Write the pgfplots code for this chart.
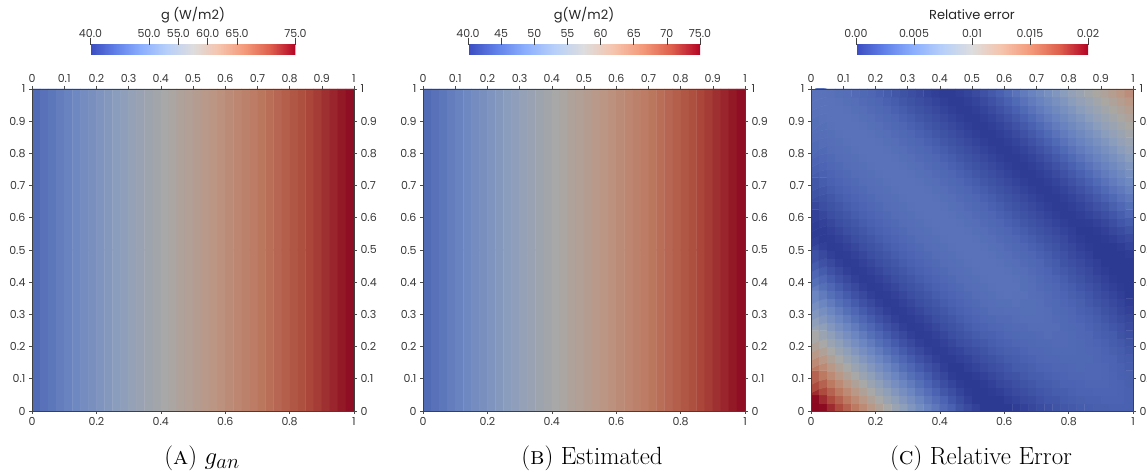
\documentclass[border=0pt]{standalone}
\usepackage{pgfplots}
\pgfplotsset{compat=1.18}
\usepackage{pgfplotstable}
\usepackage{fontspec}
\usetikzlibrary{calc}
\newfontfamily\pvfont{Poppins}

\pgfplotsset{
  colormap={cw}{rgb255=(59,76,192) rgb255=(98,130,234) rgb255=(141,176,254) rgb255=(184,208,249) rgb255=(221,221,221) rgb255=(245,196,173) rgb255=(244,154,123) rgb255=(222,96,77) rgb255=(180,4,38)},
  colormap={cwdim}{rgb255=(45,58,146) rgb255=(75,99,178) rgb255=(107,134,193) rgb255=(140,158,189) rgb255=(168,168,166) rgb255=(188,150,132) rgb255=(188,119,95) rgb255=(172,74,60) rgb255=(140,8,32)},
  base/.style={
    scale only axis, width=322pt, height=322pt, anchor=south west,
    xmin=0, xmax=1, ymin=0, ymax=1, enlargelimits=false,
    ticklabel style={font=\pvfont\fontsize{11}{13}\selectfont, text=black!78},
    /pgf/number format/assume math mode=true,
    tick align=outside, major tick length=3pt,
    tick style={black!70, line width=0.6pt},
  },
  panel/.style={
    base, axis on top, colormap name=cw,
    xtick={0,0.2,0.4,0.6,0.8,1},
    ytick={0,0.1,0.2,0.3,0.4,0.5,0.6,0.7,0.8,0.9,1},
    tick pos=left,
    axis line style={black!75, line width=0.8pt},
    colorbar horizontal,
  },
  over/.style={
    base,
    xtick={0,0.1,0.2,0.3,0.4,0.5,0.6,0.7,0.8,0.9,1},
    ytick={0,0.1,0.2,0.3,0.4,0.5,0.6,0.7,0.8,0.9,1},
    tick pos=right, xticklabel pos=right, yticklabel pos=right,
    axis line style={draw=none},
  },
  cbstyle/.style={
    at={($(parent axis.north)+(0pt,43pt)$)}, anchor=south,
    scale only axis, height=10pt,
    xtick pos=right, xticklabel pos=right,
    ytick=\empty,
    axis line style={draw=none},
    tick align=outside, major tick length=7pt,
    tick style={black!75, line width=0.6pt},
    xticklabel style={font=\pvfont\fontsize{11}{13}\selectfont, text=black!78, yshift=-4pt},
    title style={font=\pvfont\fontsize{13}{15}\selectfont, text=black!85, at={(0.5,1)}, anchor=base, yshift=19pt},
  },
}

% g (W/m2), two identical rows of 40 cells (x from 0 to 1)
\pgfplotstableread[row sep=\\, header=false]{
45.4\\46.1\\46.9\\47.6\\48.4\\49.1\\49.9\\50.6\\51.4\\52.1\\52.9\\53.6\\54.4\\55.1\\55.9\\56.6\\57.4\\58.1\\58.9\\59.6\\60.4\\61.1\\61.9\\62.6\\63.4\\64.1\\64.9\\65.6\\66.4\\67.1\\67.9\\68.6\\69.4\\70.1\\70.9\\71.6\\72.4\\73.1\\73.9\\74.6\\
45.4\\46.1\\46.9\\47.6\\48.4\\49.1\\49.9\\50.6\\51.4\\52.1\\52.9\\53.6\\54.4\\55.1\\55.9\\56.6\\57.4\\58.1\\58.9\\59.6\\60.4\\61.1\\61.9\\62.6\\63.4\\64.1\\64.9\\65.6\\66.4\\67.1\\67.9\\68.6\\69.4\\70.1\\70.9\\71.6\\72.4\\73.1\\73.9\\74.6\\
}\gtable

% relative error x 1e-4, 40 x 40 cells, bottom row first
\pgfplotstableread[row sep=\\, header=false]{
210\\199\\187\\174\\161\\148\\135\\122\\110\\99\\88\\77\\67\\57\\48\\40\\31\\24\\16\\10\\5\\0\\0\\0\\0\\2\\5\\8\\11\\13\\16\\18\\19\\21\\22\\23\\23\\24\\24\\24\\
199\\187\\174\\161\\148\\135\\122\\110\\99\\88\\78\\68\\58\\49\\40\\32\\25\\17\\11\\5\\0\\0\\0\\0\\3\\6\\9\\11\\14\\17\\18\\20\\22\\23\\24\\24\\25\\25\\25\\24\\
187\\174\\161\\148\\135\\122\\110\\99\\88\\78\\68\\59\\50\\41\\33\\25\\18\\12\\6\\1\\0\\0\\1\\3\\7\\10\\12\\15\\17\\19\\21\\22\\24\\25\\25\\26\\26\\26\\25\\24\\
174\\161\\148\\135\\122\\110\\99\\88\\78\\68\\59\\50\\42\\34\\26\\19\\12\\7\\2\\0\\0\\1\\4\\8\\10\\13\\16\\18\\20\\21\\23\\25\\25\\26\\27\\27\\27\\26\\25\\23\\
161\\148\\135\\122\\110\\99\\88\\78\\68\\59\\50\\42\\34\\27\\20\\13\\8\\2\\0\\0\\2\\5\\8\\11\\14\\16\\19\\21\\22\\24\\25\\26\\27\\27\\28\\28\\27\\26\\24\\23\\
148\\135\\122\\110\\99\\88\\78\\68\\59\\50\\42\\34\\27\\20\\14\\9\\3\\0\\0\\3\\6\\9\\12\\14\\17\\20\\21\\23\\25\\26\\27\\27\\28\\29\\28\\28\\27\\25\\24\\21\\
135\\122\\110\\99\\88\\78\\68\\59\\50\\42\\34\\27\\20\\14\\9\\4\\1\\1\\4\\6\\10\\13\\15\\18\\20\\22\\24\\25\\27\\28\\28\\29\\29\\29\\29\\27\\26\\25\\22\\20\\
122\\110\\99\\88\\78\\68\\59\\50\\42\\34\\27\\20\\14\\9\\4\\1\\2\\5\\7\\11\\13\\16\\19\\21\\23\\24\\26\\28\\28\\29\\30\\30\\30\\29\\28\\27\\25\\23\\21\\18\\
110\\99\\88\\78\\68\\59\\50\\42\\34\\27\\20\\14\\9\\4\\1\\2\\5\\8\\12\\14\\17\\19\\22\\24\\25\\27\\28\\29\\30\\30\\31\\31\\30\\29\\27\\26\\24\\21\\19\\16\\
99\\88\\78\\68\\59\\50\\42\\34\\27\\20\\14\\9\\4\\1\\2\\5\\8\\12\\15\\18\\20\\23\\24\\26\\28\\29\\30\\30\\31\\32\\31\\31\\30\\28\\27\\24\\22\\20\\16\\13\\
88\\78\\68\\59\\50\\42\\34\\27\\20\\14\\9\\4\\1\\2\\5\\8\\12\\15\\18\\21\\24\\25\\27\\28\\30\\31\\31\\32\\32\\32\\32\\30\\29\\28\\25\\23\\20\\17\\14\\10\\
78\\68\\59\\50\\42\\34\\27\\20\\14\\9\\4\\1\\2\\5\\8\\12\\15\\18\\21\\24\\26\\28\\29\\31\\31\\32\\33\\33\\33\\32\\31\\30\\28\\26\\24\\21\\18\\14\\11\\8\\
68\\59\\50\\42\\34\\27\\20\\14\\9\\4\\1\\2\\5\\8\\12\\15\\18\\21\\24\\26\\28\\30\\32\\32\\33\\33\\34\\34\\33\\32\\30\\29\\27\\24\\22\\19\\15\\12\\8\\5\\
59\\50\\42\\34\\27\\20\\14\\9\\4\\1\\2\\5\\8\\12\\15\\18\\21\\24\\26\\28\\30\\32\\33\\34\\34\\35\\34\\34\\33\\31\\30\\27\\25\\23\\19\\16\\13\\9\\6\\2\\
50\\42\\34\\27\\20\\14\\9\\4\\1\\2\\5\\8\\12\\15\\18\\21\\24\\26\\28\\30\\32\\33\\34\\35\\36\\35\\35\\33\\32\\31\\28\\26\\23\\20\\17\\13\\10\\7\\3\\0\\
42\\34\\27\\20\\14\\9\\4\\1\\2\\5\\8\\12\\15\\18\\21\\24\\26\\28\\30\\32\\33\\34\\35\\36\\36\\36\\34\\33\\31\\29\\27\\24\\21\\17\\14\\11\\7\\4\\1\\0\\
34\\27\\20\\14\\9\\4\\1\\2\\5\\8\\12\\15\\18\\21\\24\\26\\28\\30\\32\\33\\34\\35\\36\\36\\36\\35\\34\\32\\30\\27\\25\\22\\18\\15\\11\\8\\5\\1\\0\\0\\
27\\20\\14\\9\\4\\1\\2\\5\\8\\12\\15\\18\\21\\24\\26\\28\\30\\32\\33\\34\\35\\36\\36\\36\\35\\34\\33\\31\\28\\26\\22\\19\\16\\12\\9\\5\\2\\0\\0\\0\\
20\\14\\9\\4\\1\\2\\5\\8\\12\\15\\18\\21\\24\\26\\28\\30\\32\\33\\34\\35\\36\\36\\36\\35\\34\\33\\31\\29\\27\\23\\20\\16\\13\\10\\6\\3\\0\\0\\0\\0\\
14\\9\\4\\1\\2\\5\\8\\12\\15\\18\\21\\24\\26\\28\\30\\32\\33\\34\\35\\36\\36\\36\\35\\34\\33\\31\\29\\27\\24\\21\\17\\14\\10\\7\\4\\0\\0\\0\\0\\2\\
9\\4\\1\\2\\5\\8\\12\\15\\18\\21\\24\\26\\28\\30\\32\\33\\34\\35\\36\\36\\36\\35\\34\\33\\31\\29\\27\\24\\21\\18\\15\\11\\8\\4\\1\\0\\0\\0\\2\\6\\
4\\1\\2\\5\\8\\12\\15\\18\\21\\24\\26\\28\\30\\32\\33\\34\\35\\36\\36\\36\\35\\34\\33\\31\\29\\27\\24\\21\\18\\15\\12\\9\\5\\2\\0\\0\\1\\3\\7\\10\\
1\\2\\5\\8\\12\\15\\18\\21\\24\\26\\28\\30\\32\\33\\34\\35\\36\\36\\36\\35\\34\\33\\31\\29\\27\\24\\21\\18\\15\\12\\9\\6\\3\\0\\0\\1\\4\\8\\11\\16\\
2\\5\\8\\12\\15\\18\\21\\24\\26\\28\\30\\32\\33\\34\\35\\36\\36\\36\\35\\34\\33\\31\\29\\27\\24\\21\\18\\15\\12\\9\\6\\3\\1\\1\\2\\5\\8\\12\\17\\21\\
5\\8\\12\\15\\18\\21\\24\\26\\28\\30\\32\\33\\34\\35\\36\\36\\36\\35\\34\\33\\31\\29\\27\\24\\21\\18\\15\\12\\9\\6\\3\\1\\1\\3\\6\\9\\13\\17\\22\\28\\
8\\12\\15\\18\\21\\24\\26\\28\\30\\32\\33\\34\\35\\36\\36\\36\\35\\34\\33\\31\\29\\27\\24\\21\\18\\15\\12\\9\\6\\3\\1\\1\\3\\6\\10\\14\\18\\23\\28\\34\\
12\\15\\18\\21\\24\\26\\28\\30\\32\\33\\34\\35\\36\\36\\36\\35\\34\\33\\31\\29\\27\\24\\21\\18\\15\\12\\9\\6\\3\\1\\1\\3\\6\\10\\14\\19\\24\\29\\35\\40\\
15\\18\\21\\24\\26\\28\\30\\32\\33\\34\\35\\36\\36\\36\\35\\34\\33\\31\\29\\27\\24\\21\\18\\15\\12\\9\\6\\3\\1\\1\\3\\6\\10\\14\\19\\24\\30\\36\\41\\47\\
18\\21\\24\\26\\28\\30\\32\\33\\34\\35\\36\\36\\36\\35\\34\\33\\31\\29\\27\\24\\21\\18\\15\\12\\9\\6\\3\\1\\1\\3\\6\\10\\14\\19\\24\\30\\36\\42\\48\\53\\
21\\24\\26\\28\\30\\32\\33\\34\\35\\36\\36\\36\\35\\34\\33\\31\\29\\27\\24\\21\\18\\15\\12\\9\\6\\3\\1\\1\\3\\6\\10\\14\\19\\24\\30\\36\\42\\48\\54\\60\\
24\\26\\28\\30\\32\\33\\34\\35\\36\\36\\36\\35\\34\\33\\31\\29\\27\\24\\21\\18\\15\\12\\9\\6\\3\\1\\1\\3\\6\\10\\14\\19\\24\\30\\36\\42\\48\\54\\60\\67\\
26\\28\\30\\32\\33\\34\\35\\36\\36\\36\\35\\34\\33\\31\\29\\27\\24\\21\\18\\15\\12\\9\\6\\3\\1\\1\\3\\6\\10\\14\\19\\24\\30\\36\\42\\48\\54\\60\\67\\74\\
28\\30\\32\\33\\34\\35\\36\\36\\36\\35\\34\\33\\31\\29\\27\\24\\21\\18\\15\\12\\9\\6\\3\\1\\1\\3\\6\\10\\14\\19\\24\\30\\36\\42\\48\\54\\60\\67\\74\\81\\
30\\32\\33\\34\\35\\36\\36\\36\\35\\34\\33\\31\\29\\27\\24\\21\\18\\15\\12\\9\\6\\3\\1\\1\\3\\6\\10\\14\\19\\24\\30\\36\\42\\48\\54\\60\\67\\74\\81\\88\\
32\\33\\34\\35\\36\\36\\36\\35\\34\\33\\31\\29\\27\\24\\21\\18\\15\\12\\9\\6\\3\\1\\1\\3\\6\\10\\14\\19\\24\\30\\36\\42\\48\\54\\60\\67\\74\\81\\88\\95\\
33\\34\\35\\36\\36\\36\\35\\34\\33\\31\\29\\27\\24\\21\\18\\15\\12\\9\\6\\3\\1\\1\\3\\6\\10\\14\\19\\24\\30\\36\\42\\48\\54\\60\\67\\74\\81\\88\\95\\102\\
34\\35\\36\\36\\36\\35\\34\\33\\31\\29\\27\\24\\21\\18\\15\\12\\9\\6\\3\\1\\1\\3\\6\\10\\14\\19\\24\\30\\36\\42\\48\\54\\60\\67\\74\\81\\88\\95\\102\\109\\
35\\36\\36\\36\\35\\34\\33\\31\\29\\27\\24\\21\\18\\15\\12\\9\\6\\3\\1\\1\\3\\6\\10\\14\\19\\24\\30\\36\\42\\48\\54\\60\\67\\74\\81\\88\\95\\102\\109\\116\\
36\\36\\36\\35\\34\\33\\31\\29\\27\\24\\21\\18\\15\\12\\9\\6\\3\\1\\1\\3\\6\\10\\14\\19\\24\\30\\36\\42\\48\\54\\60\\67\\74\\81\\88\\95\\102\\109\\116\\124\\
36\\36\\35\\34\\33\\31\\29\\27\\24\\21\\18\\15\\12\\9\\6\\3\\1\\1\\3\\6\\10\\14\\19\\24\\30\\36\\42\\48\\54\\60\\67\\74\\81\\88\\95\\102\\109\\116\\124\\132\\
}\etable

\begin{document}
\begin{tikzpicture}
\useasboundingbox (0pt,0pt) rectangle (1147pt,473pt);

% ---------- (A)
\begin{axis}[panel, at={(32pt,62pt)},
  point meta min=40, point meta max=75,
  colorbar style={cbstyle, width=205pt,
    xtick={40,50,55,60,65,75},
    xticklabels={40.0,50.0,55.0,60.0,65.0,75.0},
    title={g (W/m2)}}]
\addplot[matrix plot*, mesh/cols=40, point meta=explicit, colormap name=cwdim]
  table[x index=0, y index=0, x expr={mod(\coordindex,40)/40+0.0125}, y expr={floor(\coordindex/40)*0.5+0.25}, meta index=0] {\gtable};
\end{axis}
\begin{axis}[over, at={(32pt,62pt)}]
\end{axis}

% ---------- (B)
\begin{axis}[panel, at={(423pt,62pt)},
  point meta min=40, point meta max=75,
  colorbar style={cbstyle, width=232pt,
    xtick={40,45,50,55,60,65,70,75},
    xticklabels={40.0,45,50,55,60,65,70,75.0},
    title={g(W/m2)}}]
\addplot[matrix plot*, mesh/cols=40, point meta=explicit, colormap name=cwdim]
  table[x index=0, y index=0, x expr={mod(\coordindex,40)/40+0.0125}, y expr={floor(\coordindex/40)*0.5+0.25}, meta index=0] {\gtable};
\end{axis}
\begin{axis}[over, at={(423pt,62pt)}]
\end{axis}

% ---------- (C)
\begin{axis}[panel, at={(811pt,62pt)},
  point meta min=0, point meta max=200,
  colorbar style={cbstyle, width=232pt,
    xtick={0,50,100,150,200},
    xticklabels={0.00,0.005,0.01,0.015,0.02},
    title={Relative error}}]
\addplot[matrix plot*, mesh/cols=40, point meta=explicit, colormap name=cwdim]
  table[x index=0, y index=0, x expr={mod(\coordindex,40)/40+0.0125}, y expr={floor(\coordindex/40)/40+0.0125}, meta index=0] {\etable};
\end{axis}
\begin{axis}[over, at={(811pt,62pt)}]
\end{axis}

% ---------- captions
\node[anchor=base, font=\fontsize{24.88}{28}\selectfont] at (202pt,8pt) {(\textsc{a})\ $g_{an}$};
\node[anchor=base, font=\fontsize{24.88}{28}\selectfont] at (592pt,8pt) {(\textsc{b})\ Estimated};
\node[anchor=base, font=\fontsize{24.88}{28}\selectfont] at (981pt,8pt) {(\textsc{c})\ Relative Error};
\end{tikzpicture}
\end{document}
